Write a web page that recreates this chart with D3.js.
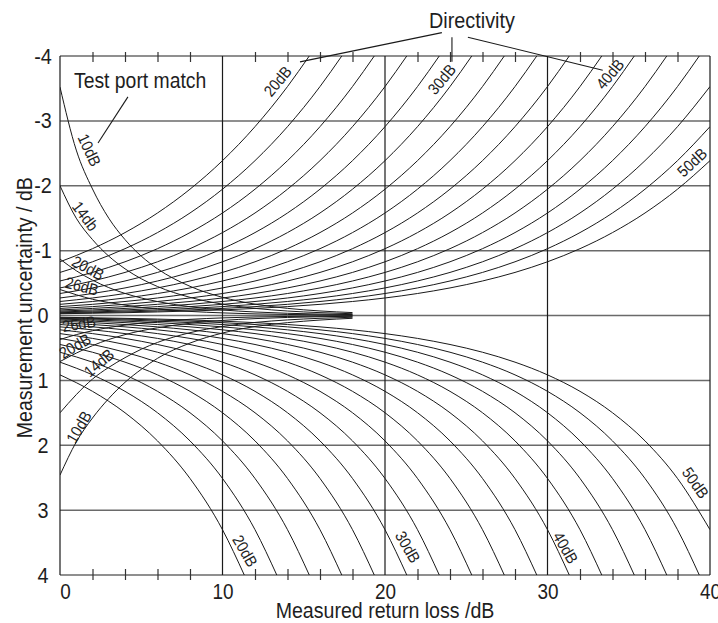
<!DOCTYPE html>
<html>
<head>
<meta charset="utf-8">
<script src="https://cdn.jsdelivr.net/npm/d3@7"></script>
<style>
  body { margin: 0; background: #fff; }
  svg text { font-family: "Liberation Sans Narrow", "Arial Narrow", "Liberation Sans", sans-serif; fill: #1e1e1e; }
</style>
</head>
<body>
<svg id="chart" width="718" height="623"></svg>
<script>
// measured return loss (dB) at which the directivity curves were read
const returnLoss = [0, 2, 4, 6, 8, 10, 12, 14, 16, 18, 20, 22, 24, 26, 28, 30, 32, 34, 36, 38, 40];

// directivity (dB), one curve above and one below zero for each
const directivity = [20, 22, 24, 26, 28, 30, 32, 34, 36, 38, 40, 42, 44, 46, 48, 50];

// negative uncertainty (dB), read every 2 dB of return loss starting at 0
const dirUpper = [
  [-0.828, -1.030, -1.278, -1.580, -1.947, -2.387, -2.911, -3.529],
  [-0.664, -0.828, -1.030, -1.278, -1.580, -1.947, -2.387, -2.911, -3.529],
  [-0.532, -0.664, -0.828, -1.030, -1.278, -1.580, -1.947, -2.387, -2.911, -3.529],
  [-0.425, -0.532, -0.664, -0.828, -1.030, -1.278, -1.580, -1.947, -2.387, -2.911, -3.529],
  [-0.339, -0.425, -0.532, -0.664, -0.828, -1.030, -1.278, -1.580, -1.947, -2.387, -2.911, -3.529],
  [-0.270, -0.339, -0.425, -0.532, -0.664, -0.828, -1.030, -1.278, -1.580, -1.947, -2.387, -2.911, -3.529],
  [-0.216, -0.270, -0.339, -0.425, -0.532, -0.664, -0.828, -1.030, -1.278, -1.580, -1.947, -2.387, -2.911, -3.529],
  [-0.172, -0.216, -0.270, -0.339, -0.425, -0.532, -0.664, -0.828, -1.030, -1.278, -1.580, -1.947, -2.387, -2.911, -3.529],
  [-0.137, -0.172, -0.216, -0.270, -0.339, -0.425, -0.532, -0.664, -0.828, -1.030, -1.278, -1.580, -1.947, -2.387, -2.911, -3.529],
  [-0.109, -0.137, -0.172, -0.216, -0.270, -0.339, -0.425, -0.532, -0.664, -0.828, -1.030, -1.278, -1.580, -1.947, -2.387, -2.911, -3.529],
  [-0.086, -0.109, -0.137, -0.172, -0.216, -0.270, -0.339, -0.425, -0.532, -0.664, -0.828, -1.030, -1.278, -1.580, -1.947, -2.387, -2.911, -3.529],
  [-0.069, -0.086, -0.109, -0.137, -0.172, -0.216, -0.270, -0.339, -0.425, -0.532, -0.664, -0.828, -1.030, -1.278, -1.580, -1.947, -2.387, -2.911, -3.529],
  [-0.055, -0.069, -0.086, -0.109, -0.137, -0.172, -0.216, -0.270, -0.339, -0.425, -0.532, -0.664, -0.828, -1.030, -1.278, -1.580, -1.947, -2.387, -2.911, -3.529],
  [-0.043, -0.055, -0.069, -0.086, -0.109, -0.137, -0.172, -0.216, -0.270, -0.339, -0.425, -0.532, -0.664, -0.828, -1.030, -1.278, -1.580, -1.947, -2.387, -2.911, -3.529],
  [-0.035, -0.043, -0.055, -0.069, -0.086, -0.109, -0.137, -0.172, -0.216, -0.270, -0.339, -0.425, -0.532, -0.664, -0.828, -1.030, -1.278, -1.580, -1.947, -2.387, -2.911],
  [-0.027, -0.035, -0.043, -0.055, -0.069, -0.086, -0.109, -0.137, -0.172, -0.216, -0.270, -0.339, -0.425, -0.532, -0.664, -0.828, -1.030, -1.278, -1.580, -1.947, -2.387]
];
// return loss where each upper curve leaves the chart at -4 dB
const dirUpperEnd = [15.34, 17.34, 19.34, 21.34, 23.34, 25.34, 27.34, 29.34, 31.34, 33.34, 35.34, 37.34, 39.34, null, null, null];

// positive uncertainty (dB), same spacing
const dirLower = [
  [0.915, 1.169, 1.499, 1.933, 2.512, 3.302],
  [0.719, 0.915, 1.169, 1.499, 1.933, 2.512, 3.302],
  [0.566, 0.719, 0.915, 1.169, 1.499, 1.933, 2.512, 3.302],
  [0.447, 0.566, 0.719, 0.915, 1.169, 1.499, 1.933, 2.512, 3.302],
  [0.353, 0.447, 0.566, 0.719, 0.915, 1.169, 1.499, 1.933, 2.512, 3.302],
  [0.279, 0.353, 0.447, 0.566, 0.719, 0.915, 1.169, 1.499, 1.933, 2.512, 3.302],
  [0.221, 0.279, 0.353, 0.447, 0.566, 0.719, 0.915, 1.169, 1.499, 1.933, 2.512, 3.302],
  [0.175, 0.221, 0.279, 0.353, 0.447, 0.566, 0.719, 0.915, 1.169, 1.499, 1.933, 2.512, 3.302],
  [0.139, 0.175, 0.221, 0.279, 0.353, 0.447, 0.566, 0.719, 0.915, 1.169, 1.499, 1.933, 2.512, 3.302],
  [0.110, 0.139, 0.175, 0.221, 0.279, 0.353, 0.447, 0.566, 0.719, 0.915, 1.169, 1.499, 1.933, 2.512, 3.302],
  [0.087, 0.110, 0.139, 0.175, 0.221, 0.279, 0.353, 0.447, 0.566, 0.719, 0.915, 1.169, 1.499, 1.933, 2.512, 3.302],
  [0.069, 0.087, 0.110, 0.139, 0.175, 0.221, 0.279, 0.353, 0.447, 0.566, 0.719, 0.915, 1.169, 1.499, 1.933, 2.512, 3.302],
  [0.055, 0.069, 0.087, 0.110, 0.139, 0.175, 0.221, 0.279, 0.353, 0.447, 0.566, 0.719, 0.915, 1.169, 1.499, 1.933, 2.512, 3.302],
  [0.044, 0.055, 0.069, 0.087, 0.110, 0.139, 0.175, 0.221, 0.279, 0.353, 0.447, 0.566, 0.719, 0.915, 1.169, 1.499, 1.933, 2.512, 3.302],
  [0.035, 0.044, 0.055, 0.069, 0.087, 0.110, 0.139, 0.175, 0.221, 0.279, 0.353, 0.447, 0.566, 0.719, 0.915, 1.169, 1.499, 1.933, 2.512, 3.302],
  [0.027, 0.035, 0.044, 0.055, 0.069, 0.087, 0.110, 0.139, 0.175, 0.221, 0.279, 0.353, 0.447, 0.566, 0.719, 0.915, 1.169, 1.499, 1.933, 2.512, 3.302]
];
// return loss where each lower curve leaves the chart at +4 dB
const dirLowerEnd = [11.34, 13.34, 15.34, 17.34, 19.34, 21.34, 23.34, 25.34, 27.34, 29.34, 31.34, 33.34, 35.34, 37.34, 39.34, null];

// test port match (dB)
const portMatch = [10, 14, 20, 26];
const portRL = [0, 1, 2, 3, 4, 5, 6, 8, 10, 12, 14, 16, 18];
const portUpper = [
  [-3.52, -2.55, -1.95, -1.50, -1.17, -0.915, -0.72, -0.45, -0.28, -0.175, -0.11, -0.07, -0.045],
  [-2.00, -1.50, -1.17, -0.915, -0.72, -0.566, -0.447, -0.28, -0.175, -0.11, -0.069, -0.044, -0.027],
  [-0.87, -0.69, -0.545, -0.43, -0.34, -0.27, -0.215, -0.135, -0.085, -0.054, -0.034, -0.022, -0.014],
  [-0.40, -0.32, -0.25, -0.20, -0.16, -0.125, -0.10, -0.063, -0.04, -0.025, -0.016, -0.01, -0.006]
];
const portLower = [
  [2.46, 1.95, 1.58, 1.28, 1.03, 0.83, 0.66, 0.425, 0.27, 0.17, 0.11, 0.07, 0.043],
  [1.50, 1.22, 0.98, 0.80, 0.65, 0.52, 0.415, 0.265, 0.17, 0.107, 0.068, 0.043, 0.027],
  [0.71, 0.58, 0.465, 0.37, 0.295, 0.235, 0.19, 0.12, 0.076, 0.048, 0.03, 0.019, 0.012],
  [0.37, 0.295, 0.235, 0.185, 0.148, 0.117, 0.093, 0.059, 0.037, 0.023, 0.015, 0.009, 0.006]
];

const xTicks = [0, 10, 20, 30, 40];
const xMinor = [2, 4, 6, 8, 12, 14, 16, 18, 22, 24, 26, 28, 32, 34, 36, 38];
const yTicks = [-4, -3, -2, -1, 0, 1, 2, 3, 4];

// curve label texts
const dirUpperText = ['20dB', '30dB', '40dB', '50dB'];
const dirLowerText = ['20dB', '30dB', '40dB', '50dB'];
const portUpperText = ['10dB', '14db', '20dB', '26dB'];
const portLowerText = ['10dB', '14dB', '20dB', '26dB'];

const svg = d3.select('#chart');
const x = d3.scaleLinear().domain([0, 40]).range([60, 710]);
const y = d3.scaleLinear().domain([-4, 4]).range([56, 575]);

// squeeze text horizontally to imitate the condensed face of the original
function condense(sel, k) {
  sel.each(function () {
    const w = this.getComputedTextLength();
    d3.select(this).attr('textLength', w * k).attr('lengthAdjust', 'spacingAndGlyphs');
  });
}

svg.append('defs').append('clipPath').attr('id', 'plot')
  .append('rect')
  .attr('x', x(0)).attr('y', y(-4))
  .attr('width', x(40) - x(0)).attr('height', y(4) - y(-4));

// horizontal grid
svg.append('g')
  .selectAll('line')
  .data(yTicks)
  .join('line')
  .attr('x1', x(0)).attr('x2', x(40))
  .attr('y1', d => y(d)).attr('y2', d => y(d))
  .attr('stroke', '#6a6a6a')
  .attr('stroke-width', 1.5);

// vertical grid
svg.append('g')
  .selectAll('line')
  .data(xTicks)
  .join('line')
  .attr('x1', d => x(d)).attr('x2', d => x(d))
  .attr('y1', y(-4)).attr('y2', y(4))
  .attr('stroke', '#1a1a1a')
  .attr('stroke-width', 1.2);

// minor ticks on top and bottom, crossing the frame
const bottomMinor = svg.append('g')
  .attr('transform', `translate(0,${y(4)})`)
  .call(d3.axisBottom(x).tickValues(xMinor).tickFormat('').tickSizeInner(-6).tickSizeOuter(0));
bottomMinor.select('.domain').remove();
bottomMinor.selectAll('line').attr('y1', 5).attr('stroke', '#333').attr('stroke-width', 1.2);

const topMinor = svg.append('g')
  .attr('transform', `translate(0,${y(-4)})`)
  .call(d3.axisTop(x).tickValues(xMinor).tickFormat('').tickSizeInner(-6).tickSizeOuter(0));
topMinor.select('.domain').remove();
topMinor.selectAll('line').attr('y1', -4).attr('stroke', '#333').attr('stroke-width', 1.2);

// tick labels
const xAxis = svg.append('g')
  .attr('transform', `translate(0,${y(4)})`)
  .call(d3.axisBottom(x).tickValues(xTicks).tickSize(0).tickPadding(8).tickFormat(d => String(d)));
xAxis.select('.domain').remove();
xAxis.selectAll('text')
  .attr('dx', d => d === 0 ? 5 : 0)
  .style('font-size', '22px')
  .style('fill', '#1e1e1e')
  .call(condense, 0.86);

const yAxis = svg.append('g')
  .attr('transform', `translate(${x(0)},0)`)
  .call(d3.axisLeft(y).tickValues(yTicks).tickSize(0).tickFormat(d => String(d)));
yAxis.select('.domain').remove();
yAxis.selectAll('text')
  .attr('x', -17)
  .attr('text-anchor', 'middle')
  .style('font-size', '22px')
  .style('fill', '#1e1e1e')
  .call(condense, 0.9);

// axis titles
svg.append('text')
  .attr('x', x(20)).attr('y', 618)
  .attr('text-anchor', 'middle')
  .style('font-size', '22px')
  .text('Measured return loss /dB')
  .call(condense, 0.89);

svg.append('text')
  .attr('transform', `translate(32,${y(-0.12)}) rotate(-90)`)
  .attr('text-anchor', 'middle')
  .style('font-size', '22px')
  .text('Measurement uncertainty / dB')
  .call(condense, 0.89);

// curves
const line = d3.line()
  .x(d => x(d[0]))
  .y(d => y(d[1]))
  .curve(d3.curveMonotoneX);

const curves = [];
directivity.forEach((dir, i) => {
  const up = dirUpper[i].map((v, k) => [returnLoss[k], v]);
  if (dirUpperEnd[i] !== null) up.push([dirUpperEnd[i], -4]);
  const lo = dirLower[i].map((v, k) => [returnLoss[k], v]);
  if (dirLowerEnd[i] !== null) lo.push([dirLowerEnd[i], 4]);
  curves.push(up, lo);
});
portMatch.forEach((m, i) => {
  curves.push(portUpper[i].map((v, k) => [portRL[k], v]));
  curves.push(portLower[i].map((v, k) => [portRL[k], v]));
});

svg.append('g')
  .attr('clip-path', 'url(#plot)')
  .selectAll('path')
  .data(curves)
  .join('path')
  .attr('d', line)
  .attr('fill', 'none')
  .attr('stroke', '#1a1a1a')
  .attr('stroke-width', 1);

// curve labels: [return loss, uncertainty, angle]
const dirUpperPos = [[13.4, -3.61, -50], [23.5, -3.64, -50], [33.85, -3.72, -50], [38.9, -2.36, -43]];
const dirLowerPos = [[11.38, 3.63, 60], [21.4, 3.57, 60], [31.1, 3.58, 60], [39.1, 2.58, 55]];
const portUpperPos = [[1.8, -2.55, 65], [1.55, -1.53, 53], [1.72, -0.73, 28], [1.35, -0.45, 14]];
const portLowerPos = [[1.17, 1.72, -60], [2.4, 0.73, -40], [0.92, 0.47, -30], [1.17, 0.13, -9]];

function curveLabels(texts, pos) {
  svg.append('g')
    .selectAll('text')
    .data(texts)
    .join('text')
    .attr('transform', (d, i) => `translate(${x(pos[i][0])},${y(pos[i][1])}) rotate(${pos[i][2]})`)
    .attr('text-anchor', 'middle')
    .attr('dominant-baseline', 'central')
    .style('font-size', '16px')
    .text(d => d)
    .call(condense, 0.9);
}
curveLabels(dirUpperText, dirUpperPos);
curveLabels(dirLowerText, dirLowerPos);
curveLabels(portUpperText, portUpperPos);
curveLabels(portLowerText, portLowerPos);

// annotations
svg.append('text')
  .attr('x', x(25.35)).attr('y', 27.5)
  .attr('text-anchor', 'middle')
  .style('font-size', '22px')
  .text('Directivity')
  .call(condense, 0.9);

svg.append('text')
  .attr('x', x(0.86)).attr('y', 88)
  .style('font-size', '22px')
  .text('Test port match')
  .call(condense, 0.88);

const leaders = [
  [[23.5, -4.36], [14.77, -3.91]],
  [[24.12, -4.29], [24.12, -3.91]],
  [[25.1, -4.29], [33.4, -3.78]],
  [[4.18, -3.37], [2.34, -2.66]]
];
svg.append('g')
  .selectAll('line')
  .data(leaders)
  .join('line')
  .attr('x1', d => x(d[0][0])).attr('y1', d => y(d[0][1]))
  .attr('x2', d => x(d[1][0])).attr('y2', d => y(d[1][1]))
  .attr('stroke', '#1a1a1a')
  .attr('stroke-width', 1.1);
</script>
</body>
</html>
